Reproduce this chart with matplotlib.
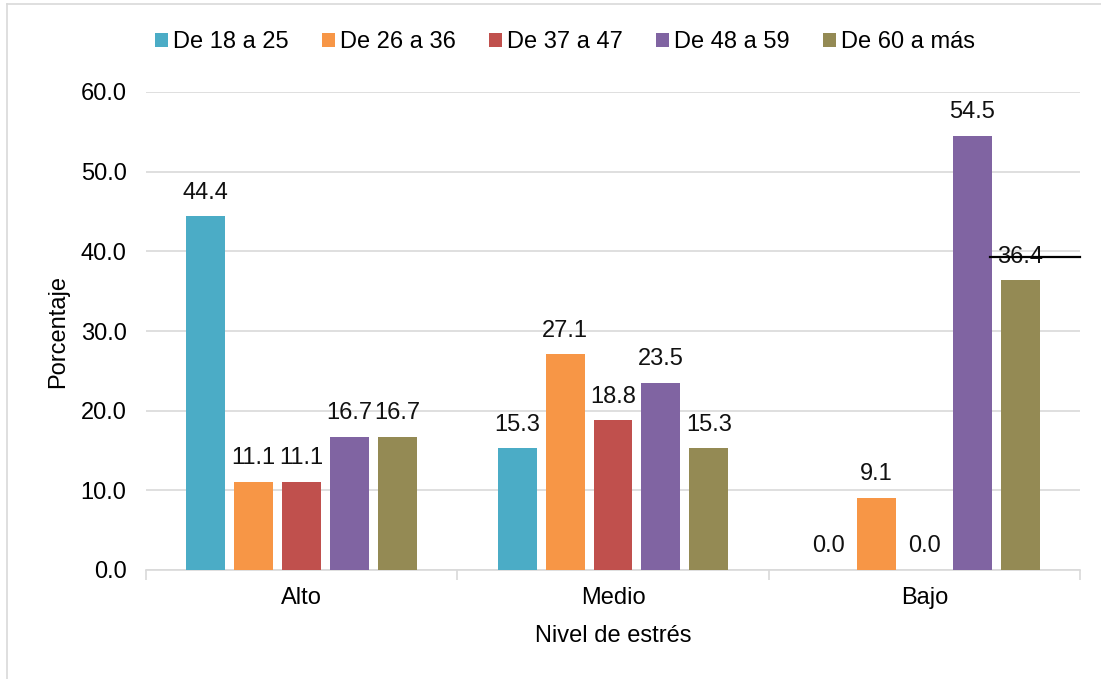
import numpy as np
import matplotlib as mpl
import matplotlib.pyplot as plt
from matplotlib.lines import Line2D

mpl.rcParams['font.family'] = ['Liberation Sans', 'DejaVu Sans']

# datos
niveles = ['Alto', 'Medio', 'Bajo']
grupos = ['De 18 a 25', 'De 26 a 36', 'De 37 a 47', 'De 48 a 59', 'De 60 a más']
valores = [
    [44.4, 15.3, 0.0],
    [11.1, 27.1, 9.1],
    [11.1, 18.8, 0.0],
    [16.7, 23.5, 54.5],
    [16.7, 15.3, 36.4],
]
colores = ['#4BACC6', '#F79646', '#C0504D', '#8064A2', '#948A54']

fig = plt.figure(figsize=(11.01, 6.79), dpi=100)
ax = fig.add_axes([146 / 1101, 1 - 570 / 679, 934 / 1101, 478 / 679])

x = np.arange(len(niveles))
paso = 0.154
ancho = 0.125
for k, (g, vals, c) in enumerate(zip(grupos, valores, colores)):
    pos = x + (k - 2) * paso
    barras = ax.bar(pos, vals, width=ancho, color=c, label=g, zorder=3)
    for b, v in zip(barras, vals):
        ax.annotate(f'{v:.1f}', (b.get_x() + b.get_width() / 2, v),
                    xytext=(0, 9), textcoords='offset points',
                    ha='center', va='bottom', fontsize=17, color='#111111',
                    zorder=4)

ax.set_xlim(-0.5, 2.5)
ax.set_ylim(0, 60)
ax.set_yticks(np.arange(0, 61, 10))
ax.set_yticklabels([f'{t:.1f}' for t in np.arange(0, 61, 10)])
ax.yaxis.grid(True, color='#D9D9D9', linewidth=1.2, zorder=0)
ax.set_axisbelow(True)

# marcas del eje x entre categorías
ax.set_xticks(x)
ax.set_xticklabels(niveles)
ax.set_xticks([-0.5, 0.5, 1.5, 2.5], minor=True)
ax.tick_params(axis='x', which='major', length=0, pad=12, labelsize=17)
ax.tick_params(axis='x', which='minor', length=7, color='#D9D9D9', width=1.2)
ax.tick_params(axis='y', length=0, pad=14, labelsize=17)

for s in ['top', 'right', 'left']:
    ax.spines[s].set_visible(False)
ax.spines['bottom'].set_color('#D9D9D9')
ax.spines['bottom'].set_linewidth(1.2)

ax.set_xlabel('Nivel de estrés', fontsize=17, labelpad=12)
ax.set_ylabel('Porcentaje', fontsize=17, labelpad=8)

# línea suelta sobre la serie final
ax.plot([0.904, 1.0], [39.3 / 60, 39.3 / 60], transform=ax.transAxes,
        color='black', linewidth=1.6, zorder=5, clip_on=False)

leg = fig.legend(loc='center', bbox_to_anchor=(0.513, 1 - 42 / 679), ncol=5,
                 frameon=False, fontsize=17, handlelength=0.55, handleheight=0.55,
                 handletextpad=0.22, columnspacing=1.4)

# marco exterior
fig.add_artist(Line2D([7 / 1101, 7 / 1101], [0, 1 - 4 / 679],
                      transform=fig.transFigure, color='#D9D9D9', linewidth=1.2))
fig.add_artist(Line2D([7 / 1101, 1], [1 - 4 / 679, 1 - 4 / 679],
                      transform=fig.transFigure, color='#D9D9D9', linewidth=1.2))

fig.savefig('out.png', dpi=100)
